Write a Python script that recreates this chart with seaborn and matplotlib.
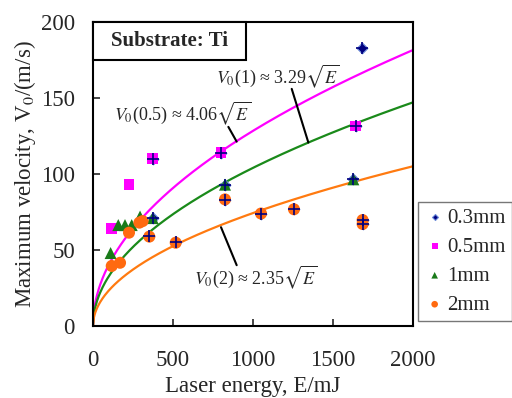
import numpy as np
import pandas as pd
import matplotlib
matplotlib.use('Agg')
import matplotlib.pyplot as plt
from matplotlib.patches import Rectangle
import seaborn as sns

# measured points (laser energy in mJ, velocity in m/s)
e_03 = [373, 373, 352, 517, 800, 825, 825, 1050, 1256, 1642, 1627, 1685, 1685, 1679]
v_03 = [110, 71, 59, 55, 114, 93, 83, 74, 77, 131.6, 96.5, 69.7, 67.1, 182.7]

e_05 = [117, 225, 373, 800, 1642]
v_05 = [64, 93, 110, 114, 131.6]

e_1 = [110, 158, 200, 242, 294, 373, 825, 1627]
v_1 = [48, 66.4, 66.4, 66.4, 72, 71, 93, 96.5]

e_2 = [117, 169, 225, 290, 310, 352, 517, 825, 1050, 1256, 1685, 1685]
v_2 = [39.5, 41.6, 61.4, 68, 69, 58.8, 54.8, 83.3, 74, 76.8, 69.7, 67.1]

# fitted coefficients V0 = k*sqrt(E)
fit_labels = ['0.5', '1', '2']
fit_k = [4.06, 3.29, 2.35]

sns.set_style('ticks')
plt.rcParams['font.family'] = ['Liberation Serif', 'DejaVu Serif']
plt.rcParams['mathtext.fontset'] = 'stix'

fig = plt.figure(figsize=(5.12, 3.98), dpi=100)
ax = fig.add_axes([93 / 512, 72 / 398, 320 / 512, 304 / 398])

colors = {'0.3mm': '#000080', '0.5mm': '#ff00ff', '1mm': '#1a7a1a', '2mm': '#ff6a10'}
fit_colors = ['#ff00ff', '#1a8a1a', '#ff7a10']

E = np.linspace(0, 2000, 400)
curves = pd.DataFrame({
    'E': np.tile(E, 3),
    'V': np.concatenate([k * np.sqrt(E) for k in fit_k]),
    'fit': np.repeat(fit_labels, len(E)),
})
sns.lineplot(data=curves, x='E', y='V', hue='fit', palette=fit_colors,
             linewidth=1.6, legend=False, ax=ax, zorder=2)

# 0.3 mm drawn first as diamonds
sns.scatterplot(x=e_03, y=v_03, marker='D', s=30, color=colors['0.3mm'],
                edgecolor='#6a8ad8', linewidth=0.8, ax=ax, zorder=3, label='0.3mm')
sns.scatterplot(x=e_05, y=v_05, marker='s', s=60, color=colors['0.5mm'],
                edgecolor='none', ax=ax, zorder=4, label='0.5mm')
sns.scatterplot(x=e_1, y=v_1, marker='^', s=75, color=colors['1mm'],
                edgecolor='none', ax=ax, zorder=4, label='1mm')
sns.scatterplot(x=e_2, y=v_2, marker='o', s=75, color=colors['2mm'],
                edgecolor='none', ax=ax, zorder=4, label='2mm')
# crosses of the 0.3 mm markers show on top of the other points
ax.scatter(e_03, v_03, marker='+', s=70, color=colors['0.3mm'],
           linewidths=1.2, zorder=5)

ax.set_xlim(0, 2000)
ax.set_ylim(0, 200)
ax.set_xticks([0, 500, 1000, 1500, 2000])
ax.set_yticks([0, 50, 100, 150, 200])
ax.tick_params(direction='in', labelsize=16.5, length=5, width=1.2)
ax.tick_params(axis='x', pad=17)
ax.tick_params(axis='y', pad=13)
for sp in ax.spines.values():
    sp.set_visible(True)
    sp.set_linewidth(1.5)
    sp.set_color('black')
ax.set_xlabel('Laser energy, E/mJ', fontsize=16.5, labelpad=4)
ax.set_ylabel('Maximum velocity, V$_0$/(m/s)', fontsize=16.5, labelpad=2)

# title box in the top-left corner of the plot
ax.add_patch(Rectangle((0, 0.875), 0.478, 0.125, transform=ax.transAxes,
                       fc='white', ec='black', lw=1.5, zorder=6, clip_on=False))
ax.text(0.24, 0.938, 'Substrate: Ti', transform=ax.transAxes, fontsize=15,
        fontweight='bold', ha='center', va='center', zorder=7)

# fit labels with leader lines
ax.text(562, 140, r'$V_0$(0.5) ≈ 4.06$\sqrt{E}$', fontsize=13, ha='center', va='center')
ax.plot([846, 898], [131, 121.3], color='black', lw=1.5)
ax.text(1156, 164, r'$V_0$(1) ≈ 3.29$\sqrt{E}$', fontsize=13, ha='center', va='center')
ax.plot([1242, 1346], [156, 120.7], color='black', lw=1.5)
ax.text(1019, 32, r'$V_0$(2) ≈ 2.35$\sqrt{E}$', fontsize=13, ha='center', va='center')
ax.plot([898, 800], [40, 65], color='black', lw=1.5)

handles, labels = ax.get_legend_handles_labels()
if ax.get_legend():
    ax.get_legend().remove()
leg = fig.legend(handles, labels, loc='upper left', bbox_to_anchor=(418 / 512, 1 - 202 / 398),
                 fontsize=15, frameon=True, fancybox=False, markerscale=0.55,
                 handletextpad=0.1, handlelength=1.0, labelspacing=0.45,
                 borderaxespad=0, borderpad=0.3)
leg.get_frame().set_edgecolor('#555555')
leg.get_frame().set_linewidth(1.0)

fig.savefig('out.png', dpi=100)
